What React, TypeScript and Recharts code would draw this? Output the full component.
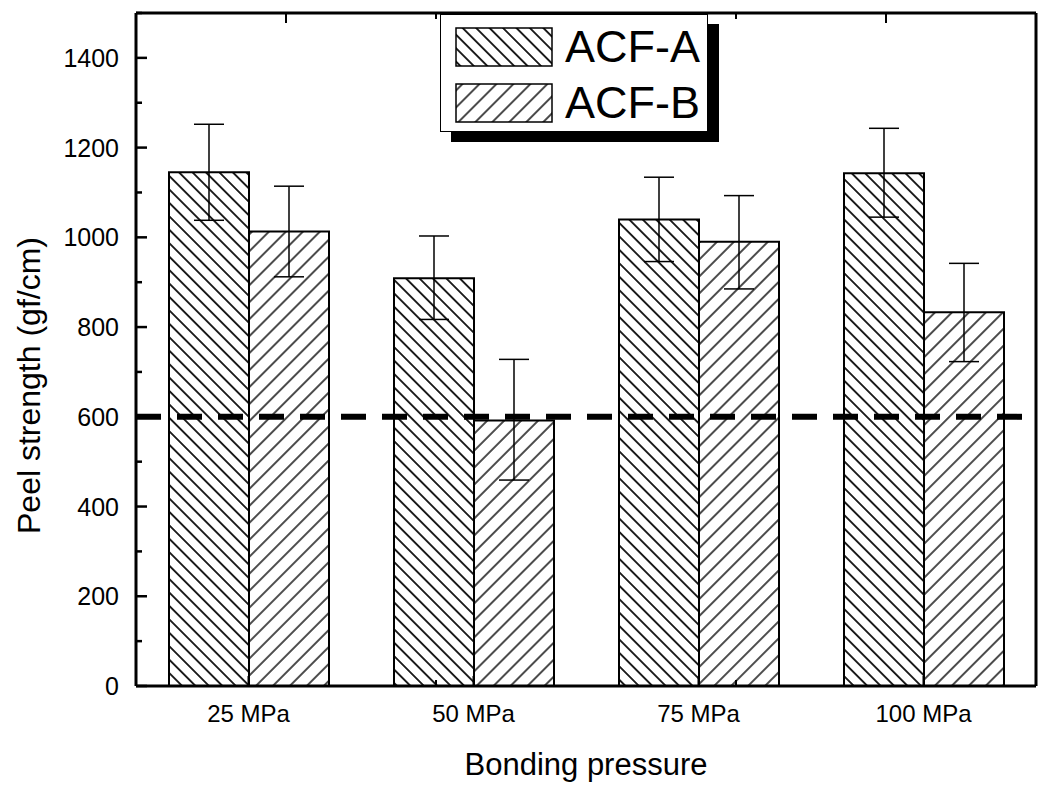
import { BarChart, Bar, XAxis, YAxis, ErrorBar, ReferenceLine, Legend } from 'recharts';

// valeurs (gf/cm)
const pressures = ['25 MPa', '50 MPa', '75 MPa', '100 MPa'];
const acfA = [1145, 909, 1040, 1143];
const acfB = [1013, 592, 990, 833];
// [moins, plus]
const errA: [number, number][] = [[107, 107], [92, 94], [94, 94], [98, 100]];
const errB: [number, number][] = [[101, 101], [133, 136], [105, 103], [110, 109]];
const yTicks = [0, 100, 200, 300, 400, 500, 600, 700, 800, 900, 1000, 1100, 1200, 1300, 1400, 1500];
const criterion = 600;

const data = pressures.map((p, i) => ({
  pressure: p,
  a: acfA[i],
  b: acfB[i],
  errA: errA[i],
  errB: errB[i],
}));

const W = 1053;
const H = 785;
const X_AXIS_H = 99;
const MARGIN = { top: 12, right: 16, bottom: 0, left: 0 };
const PLOT_BOTTOM = H - MARGIN.bottom - X_AXIS_H;
const FONT = '"Liberation Sans", Arial, sans-serif';

const Patterns = ({ idA, idB }: { idA: string; idB: string }) => (
  <defs>
    <pattern id={idA} patternUnits="userSpaceOnUse" width={9.5} height={9.5} patternTransform="rotate(-45)">
      <rect width={9.5} height={9.5} fill="#fff" />
      <line x1={4.75} y1={0} x2={4.75} y2={9.5} stroke="#000" strokeWidth={1.7} />
    </pattern>
    <pattern id={idB} patternUnits="userSpaceOnUse" width={12} height={12} patternTransform="rotate(45)">
      <rect width={12} height={12} fill="#fff" />
      <line x1={6} y1={0} x2={6} y2={12} stroke="#000" strokeWidth={1.4} />
    </pattern>
  </defs>
);

const LeftTick = (props: any) => {
  const { x, y, payload } = props;
  const major = payload.value % 200 === 0;
  return (
    <g>
      <line x1={x} y1={y} x2={x + (major ? 11 : 6)} y2={y} stroke="#000" strokeWidth={2.5} />
      {major && payload.value <= 1400 && (
        <text x={x - 17} y={y} dy={9} textAnchor="end" fontSize={25} fontFamily={FONT} fill="#000">
          {payload.value}
        </text>
      )}
    </g>
  );
};

const RightTick = (props: any) => {
  const { x, y, payload } = props;
  const major = payload.value % 200 === 0;
  return <line x1={x} y1={y} x2={x - (major ? 13 : 7)} y2={y} stroke="#000" strokeWidth={2.5} />;
};

const BottomTick = (props: any) => {
  const { x, y, payload } = props;
  return (
    <g>
      <line x1={x} y1={y} x2={x} y2={y - 10} stroke="#000" strokeWidth={2} />
      <text x={x} y={y + 36} textAnchor="middle" fontSize={24} fontFamily={FONT} fill="#000">
        {payload.value}
      </text>
    </g>
  );
};

// axe du haut : graduations au centre et aux limites des catégories,
// les limites sont aussi répétées sur l'axe du bas
const TopTick = (props: any) => {
  const { x, y, payload } = props;
  const boundary = Number.isInteger(payload.value);
  return (
    <g>
      <line x1={x} y1={y} x2={x} y2={y + (boundary ? 6 : 10)} stroke="#000" strokeWidth={2} />
      {boundary && <line x1={x} y1={PLOT_BOTTOM} x2={x} y2={PLOT_BOTTOM - 6} stroke="#000" strokeWidth={2} />}
    </g>
  );
};

const LegendBox = () => (
  <div
    style={{
      width: 266,
      height: 116,
      border: '1.5px solid #000',
      background: '#fff',
      boxShadow: '11px 10px 0 #000',
      position: 'relative',
      fontFamily: FONT,
    }}
  >
    {[
      { name: 'ACF-A', fill: 'url(#legA)', top: 12 },
      { name: 'ACF-B', fill: 'url(#legB)', top: 68 },
    ].map((it) => (
      <div key={it.name} style={{ position: 'absolute', left: 14, top: it.top, display: 'flex', alignItems: 'center' }}>
        <svg width={98} height={40} style={{ display: 'block' }}>
          <Patterns idA="legA" idB="legB" />
          <rect x={1} y={1} width={96} height={38} fill={it.fill} stroke="#000" strokeWidth={1.5} />
        </svg>
        <span style={{ fontSize: 45, marginLeft: 12, lineHeight: '40px', color: '#000' }}>{it.name}</span>
      </div>
    ))}
  </div>
);

export default function App() {
  return (
    <div style={{ position: 'absolute', left: 0, top: 0, width: W, height: H, background: '#fff' }}>
      <BarChart width={W} height={H} data={data} margin={MARGIN} barCategoryGap={33} barGap={0}>
        <Patterns idA="hatchA" idB="hatchB" />
        <XAxis
          dataKey="pressure"
          height={X_AXIS_H}
          axisLine={{ stroke: '#000', strokeWidth: 3 }}
          tickLine={false}
          tickSize={0}
          tickMargin={0}
          tick={<BottomTick />}
          interval={0}
          label={{
            value: 'Bonding pressure',
            position: 'insideBottom',
            offset: 10,
            fontSize: 31,
            fontFamily: FONT,
            fill: '#000',
          }}
        />
        <XAxis
          xAxisId="top"
          orientation="top"
          type="number"
          domain={[0, 4]}
          ticks={[0, 0.5, 1, 1.5, 2, 2.5, 3, 3.5, 4]}
          height={1}
          axisLine={{ stroke: '#000', strokeWidth: 3 }}
          tickLine={false}
          tickSize={0}
          tickMargin={0}
          tick={<TopTick />}
          interval={0}
        />
        <YAxis
          width={136}
          domain={[0, 1500]}
          ticks={yTicks}
          interval={0}
          axisLine={{ stroke: '#000', strokeWidth: 3 }}
          tickLine={false}
          tickSize={0}
          tickMargin={0}
          tick={<LeftTick />}
          label={{
            value: 'Peel strength (gf/cm)',
            angle: -90,
            position: 'insideLeft',
            offset: 29,
            dy: 36,
            fontSize: 32,
            fontFamily: FONT,
            fill: '#000',
            style: { textAnchor: 'middle' },
          }}
        />
        <YAxis
          yAxisId="right"
          orientation="right"
          width={1}
          domain={[0, 1500]}
          ticks={yTicks}
          interval={0}
          axisLine={{ stroke: '#000', strokeWidth: 3 }}
          tickLine={false}
          tickSize={0}
          tickMargin={0}
          tick={<RightTick />}
        />
        <Bar dataKey="a" name="ACF-A" fill="url(#hatchA)" stroke="#000" strokeWidth={2} isAnimationActive={false}>
          <ErrorBar dataKey="errA" width={15} stroke="#000" strokeWidth={1.5} />
        </Bar>
        <Bar dataKey="b" name="ACF-B" fill="url(#hatchB)" stroke="#000" strokeWidth={2} isAnimationActive={false}>
          <ErrorBar dataKey="errB" width={15} stroke="#000" strokeWidth={1.5} />
        </Bar>
        <ReferenceLine y={criterion} stroke="#000" strokeWidth={6} strokeDasharray="25 16" />
        <Legend
          layout="vertical"
          align="center"
          verticalAlign="middle"
          wrapperStyle={{ top: 14, left: 440, width: 270 }}
          content={<LegendBox />}
        />
      </BarChart>
    </div>
  );
}
